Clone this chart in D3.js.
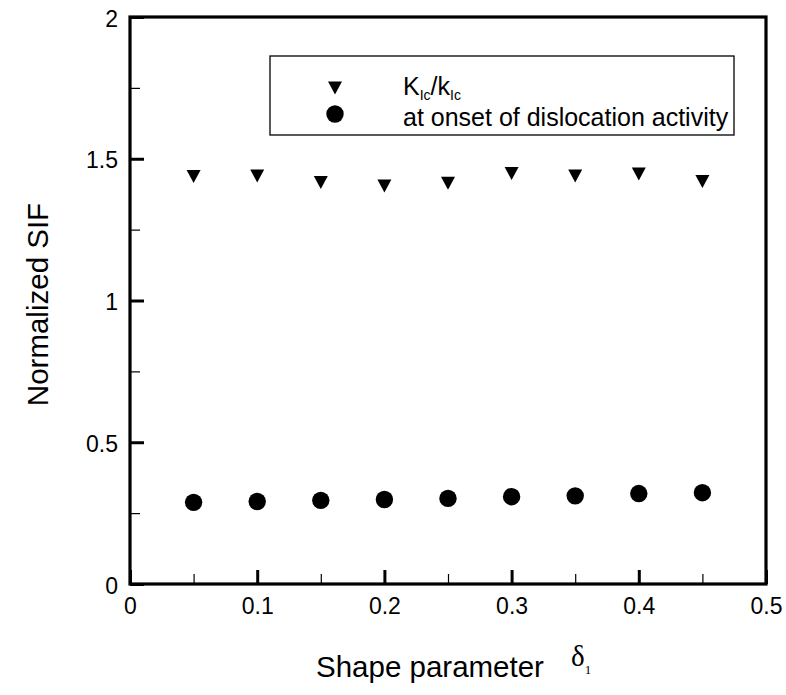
<!DOCTYPE html>
<html>
<head>
<meta charset="utf-8">
<script src="https://cdn.jsdelivr.net/npm/d3@7/dist/d3.min.js"></script>
<style>
  html, body { margin: 0; padding: 0; background: #fff; }
  svg { display: block; }
  text { font-family: Arial, "Liberation Sans", sans-serif; fill: #000; }
</style>
</head>
<body>
<script>
// Shape parameter values along x
const delta = [0.05, 0.10, 0.15, 0.20, 0.25, 0.30, 0.35, 0.40, 0.45];
// K_Ic / k_Ic series (down triangles)
const kRatio = [1.437, 1.439, 1.416, 1.404, 1.414, 1.448, 1.439, 1.446, 1.420];
// Normalized SIF at onset of dislocation activity (filled circles)
const onset = [0.288, 0.291, 0.295, 0.298, 0.302, 0.308, 0.311, 0.319, 0.322];

const xMajor = [0, 0.1, 0.2, 0.3, 0.4, 0.5];
const xMinor = [0.05, 0.15, 0.25, 0.35, 0.45];
const yMajor = [0, 0.5, 1, 1.5, 2];
const yMinor = [0.25, 0.75, 1.25, 1.75];

const W = 786, H = 695;
const plot = { left: 130, right: 766, top: 17, bottom: 584 };

const svg = d3.select("body").append("svg")
  .attr("width", W).attr("height", H);

const x = d3.scaleLinear().domain([0, 0.5]).range([plot.left, plot.right]);
const y = d3.scaleLinear().domain([0, 2]).range([plot.bottom, plot.top]);

const fmt = d => d3.format("~g")(d);

// minor ticks (inward, thin)
svg.append("g")
  .attr("transform", `translate(0,${plot.bottom})`)
  .call(d3.axisBottom(x).tickValues(xMinor).tickSize(-10).tickFormat(""))
  .call(g => g.select(".domain").remove())
  .call(g => g.selectAll("line").attr("stroke", "#000").attr("stroke-width", 1.2));
svg.append("g")
  .attr("transform", `translate(${plot.left},0)`)
  .call(d3.axisLeft(y).tickValues(yMinor).tickSize(-10).tickFormat(""))
  .call(g => g.select(".domain").remove())
  .call(g => g.selectAll("line").attr("stroke", "#000").attr("stroke-width", 1.2));

// major ticks with labels
svg.append("g")
  .attr("transform", `translate(0,${plot.bottom})`)
  .call(d3.axisBottom(x).tickValues(xMajor).tickSize(-14).tickPadding(14).tickFormat(fmt))
  .call(g => g.select(".domain").remove())
  .call(g => g.selectAll("line").attr("stroke", "#000").attr("stroke-width", 3))
  .call(g => g.selectAll("text").attr("font-size", 23)
      .style("font-family", "Arial, 'Liberation Sans', sans-serif").attr("fill", "#000"));
svg.append("g")
  .attr("transform", `translate(${plot.left},0)`)
  .call(d3.axisLeft(y).tickValues(yMajor).tickSize(-14).tickPadding(12).tickFormat(fmt))
  .call(g => g.select(".domain").remove())
  .call(g => g.selectAll("line").attr("stroke", "#000").attr("stroke-width", 3))
  .call(g => g.selectAll("text").attr("font-size", 23).attr("dy", "0.4em")
      .style("font-family", "Arial, 'Liberation Sans', sans-serif").attr("fill", "#000"));

// frame
svg.append("rect")
  .attr("x", plot.left).attr("y", plot.top)
  .attr("width", plot.right - plot.left).attr("height", plot.bottom - plot.top)
  .attr("fill", "none").attr("stroke", "#000").attr("stroke-width", 3.2);

// markers
const tri = (cx, cy, w, h) =>
  `M${cx - w / 2},${cy - h / 2}L${cx + w / 2},${cy - h / 2}L${cx},${cy + h / 2}Z`;

svg.append("g").selectAll("path")
  .data(delta.map((d, i) => [d, kRatio[i]]))
  .join("path")
  .attr("d", d => tri(x(d[0]), y(d[1]), 14, 13))
  .attr("fill", "#000");

svg.append("g").selectAll("circle")
  .data(delta.map((d, i) => [d, onset[i]]))
  .join("circle")
  .attr("cx", d => x(d[0])).attr("cy", d => y(d[1]))
  .attr("r", 8.7).attr("fill", "#000");

// legend
const leg = svg.append("g");
leg.append("rect")
  .attr("x", 270).attr("y", 56).attr("width", 464).attr("height", 79)
  .attr("fill", "#fff").attr("stroke", "#000").attr("stroke-width", 1.3);
leg.append("path").attr("d", tri(335, 88, 14, 13)).attr("fill", "#000");
leg.append("circle").attr("cx", 335).attr("cy", 114).attr("r", 8.7).attr("fill", "#000");

const l1 = leg.append("text").attr("x", 403).attr("y", 95).attr("font-size", 25);
l1.append("tspan").text("K");
l1.append("tspan").attr("font-size", 14).attr("dy", 5).text("Ic");
l1.append("tspan").attr("dy", -5).text("/k");
l1.append("tspan").attr("font-size", 14).attr("dy", 5).text("Ic");

leg.append("text").attr("x", 403).attr("y", 126).attr("font-size", 25)
  .text("at onset of dislocation activity");

// axis titles
svg.append("text")
  .attr("transform", `translate(48,${(plot.top + plot.bottom) / 2 + 4}) rotate(-90)`)
  .attr("text-anchor", "middle").attr("font-size", 29.5)
  .text("Normalized SIF");

svg.append("text").attr("x", 316).attr("y", 677).attr("font-size", 29.5)
  .text("Shape parameter");
const dl = svg.append("text").attr("x", 571).attr("y", 666)
  .style("font-family", "'Times New Roman', 'Liberation Serif', serif");
dl.append("tspan").attr("font-size", 29).text("δ");
dl.append("tspan").attr("font-size", 13).attr("dy", 8).text("1");
</script>
</body>
</html>
